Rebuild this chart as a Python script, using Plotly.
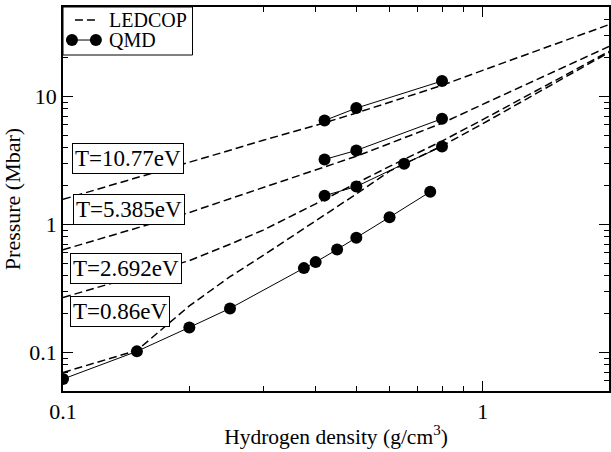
import plotly.graph_objects as go

# ---------------- data ----------------
ledcop_density = [0.1, 0.15, 0.2, 0.25, 0.3, 0.4, 0.5, 0.6, 0.8, 1.0, 1.5, 2.0]
ledcop_T1077 = [1.57, 2.31, 3.05, 3.80, 4.55, 5.94, 7.43, 9.02, 12.2, 16.0, 25.8, 36.4]
ledcop_T5385 = [0.634, 0.94, 1.24, 1.59, 1.95, 2.66, 3.41, 4.29, 6.18, 8.67, 16.0, 24.6]
ledcop_T2692 = [0.269, 0.396, 0.522, 0.701, 0.904, 1.45, 2.10, 2.84, 4.48, 6.59, 13.5, 22.5]
ledcop_T086 = [0.0698, 0.1037, 0.231, 0.391, 0.573, 1.06, 1.73, 2.61, 4.11, 6.12, 12.97, 22.1]

qmd_T086_density = [0.1, 0.15, 0.2, 0.25, 0.375, 0.4, 0.45, 0.5, 0.6, 0.75]
qmd_T086_pressure = [0.062, 0.102, 0.157, 0.221, 0.456, 0.508, 0.638, 0.787, 1.14, 1.80]
qmd_T2692_density = [0.42, 0.5, 0.65, 0.8]
qmd_T2692_pressure = [1.68, 1.98, 2.98, 4.07]
qmd_T5385_density = [0.42, 0.5, 0.8]
qmd_T5385_pressure = [3.22, 3.79, 6.70]
qmd_T1077_density = [0.42, 0.5, 0.8]
qmd_T1077_pressure = [6.49, 8.11, 13.2]

temp_labels = ["T=10.77eV", "T=5.385eV", "T=2.692eV", "T=0.86eV"]
legend_labels = ["LEDCOP", "QMD"]

x_major = [0.1, 1]
x_major_text = ["0.1", "1"]
x_minor = [0.2, 0.3, 0.4, 0.5, 0.6, 0.7, 0.8, 0.9, 2]
y_major = [0.1, 1, 10]
y_major_text = ["0.1", "1", "10"]
y_minor = [0.06, 0.07, 0.08, 0.09, 0.2, 0.3, 0.4, 0.5, 0.6, 0.7, 0.8, 0.9,
           2, 3, 4, 5, 6, 7, 8, 9, 20, 30, 40]

# ---------------- figure ----------------
FONT = "Liberation Serif"
DASH = "8px,4px"
fig = go.Figure()

ledcop_sets = [ledcop_T1077, ledcop_T5385, ledcop_T2692, ledcop_T086]
for p in ledcop_sets:
    fig.add_trace(go.Scatter(
        x=ledcop_density, y=p, mode="lines",
        line=dict(color="black", width=1.5, dash=DASH),
        name=legend_labels[0], showlegend=False))

qmd_sets = [(qmd_T086_density, qmd_T086_pressure),
            (qmd_T2692_density, qmd_T2692_pressure),
            (qmd_T5385_density, qmd_T5385_pressure),
            (qmd_T1077_density, qmd_T1077_pressure)]
for d, p in qmd_sets:
    fig.add_trace(go.Scatter(
        x=d, y=p, mode="lines+markers",
        line=dict(color="black", width=1),
        marker=dict(color="black", size=12, symbol="circle"),
        name=legend_labels[1], showlegend=False))

# temperature label boxes (paper coords)
label_pos = [(0.0164, 0.6055), (0.0183, 0.4714), (0.0128, 0.3203), (0.0128, 0.207)]
for txt, (xp, yp) in zip(temp_labels, label_pos):
    fig.add_annotation(
        x=xp, y=yp, xref="paper", yref="paper", xanchor="left", yanchor="middle",
        text=txt, showarrow=False,
        font=dict(family=FONT, size=23, color="black"),
        bgcolor="white", bordercolor="black", borderwidth=1, borderpad=2)

# legend box (drawn as layout decoration, grace-style)
fig.add_shape(type="rect", xref="paper", yref="paper",
              x0=0, x1=0.2372, y0=0.875, y1=1,
              line=dict(color="black", width=1), fillcolor="white", layer="above")
fig.add_shape(type="line", xref="paper", yref="paper",
              x0=0.0219, x1=0.0639, y0=0.966, y1=0.966,
              line=dict(color="black", width=1.5, dash=DASH), layer="above")
fig.add_shape(type="line", xref="paper", yref="paper",
              x0=0.0164, x1=0.0602, y0=0.914, y1=0.914,
              line=dict(color="black", width=1), layer="above")
for xa in (0.0164, 0.0602):
    fig.add_shape(type="circle", xref="paper", yref="paper",
                  xsizemode="pixel", ysizemode="pixel",
                  xanchor=xa, yanchor=0.914, x0=-6, x1=6, y0=-6, y1=6,
                  line=dict(color="black", width=0), fillcolor="black", layer="above")
for txt, yp in zip(legend_labels, (0.966, 0.914)):
    fig.add_annotation(x=0.0803, y=yp, xref="paper", yref="paper",
                       xanchor="left", yanchor="middle", text=txt, showarrow=False,
                       font=dict(family=FONT, size=20, color="black"))

axis_common = dict(
    type="log", showgrid=False, zeroline=False,
    showline=True, linecolor="black", linewidth=1.5, mirror="allticks",
    ticks="inside", ticklen=10, tickwidth=1, tickcolor="black",
    tickfont=dict(family=FONT, size=22, color="black"),
)

fig.update_xaxes(
    **axis_common,
    range=[-1, 0.30103],
    tickmode="array", tickvals=x_major, ticktext=x_major_text,
    minor=dict(tickmode="array", tickvals=x_minor, ticks="inside",
               ticklen=5, tickcolor="black", showgrid=False),
    title=dict(text="Hydrogen density (g/cm<sup>3</sup>)",
               font=dict(family=FONT, size=21.5, color="black"), standoff=6),
)
fig.update_yaxes(
    **axis_common,
    range=[-1.30103, 1.69897],
    tickmode="array", tickvals=y_major, ticktext=y_major_text,
    minor=dict(tickmode="array", tickvals=y_minor, ticks="inside",
               ticklen=5, tickcolor="black", showgrid=False),
    title=dict(text="Pressure (Mbar)",
               font=dict(family=FONT, size=22, color="black"), standoff=4),
)

fig.update_layout(
    width=611, height=452,
    margin=dict(l=63, r=0, t=7, b=61),
    paper_bgcolor="white", plot_bgcolor="white",
    font=dict(family=FONT, size=20, color="black"),
    showlegend=False,
)

fig.write_html("out.html")
